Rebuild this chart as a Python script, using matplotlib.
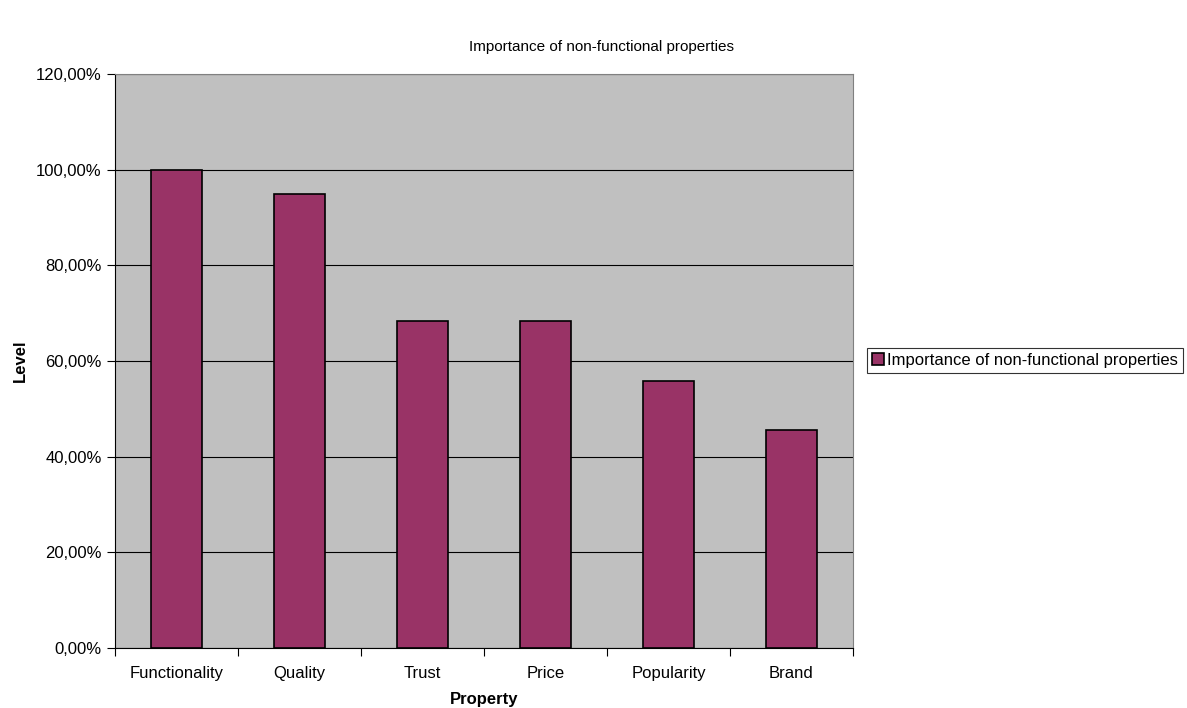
import matplotlib.pyplot as plt
from matplotlib.ticker import FuncFormatter, MultipleLocator

plt.rcParams['font.family'] = ['Liberation Sans', 'DejaVu Sans']

categories = ['Functionality', 'Quality', 'Trust', 'Price', 'Popularity', 'Brand']
values = [100.0, 95.0, 68.4, 68.4, 55.8, 45.6]
series_name = 'Importance of non-functional properties'

fig = plt.figure(figsize=(11.87, 7.08), dpi=100)
ax = fig.add_axes([0.0969, 0.0847, 0.6217, 0.8108])
ax.set_facecolor('#C0C0C0')

x = range(len(categories))
ax.bar(x, values, width=0.41, color='#993366', edgecolor='black', linewidth=1.2,
       label=series_name, zorder=3)

ax.set_xlim(-0.5, len(categories) - 0.5)
ax.set_ylim(0, 120)
ax.yaxis.set_major_locator(MultipleLocator(20))
ax.yaxis.set_major_formatter(FuncFormatter(lambda v, p: f'{v:.2f}%'.replace('.', ',')))
ax.grid(axis='y', color='black', linewidth=0.8, zorder=1)

# category labels centred, ticks on the boundaries
ax.set_xticks([i - 0.5 for i in range(len(categories) + 1)])
ax.set_xticklabels([])
ax.set_xticks(list(x), minor=True)
ax.set_xticklabels(categories, minor=True, fontsize=12)
ax.tick_params(axis='x', which='minor', length=0, pad=13)
ax.tick_params(axis='x', which='major', length=6, direction='out')
ax.tick_params(axis='y', length=6, direction='out', labelsize=12)

for s in ['top', 'right']:
    ax.spines[s].set_color('#808080')
for s in ['left', 'bottom']:
    ax.spines[s].set_color('black')

ax.set_xlabel('Property', fontsize=12, fontweight='bold', labelpad=8)
ax.set_ylabel('Level', fontsize=12, fontweight='bold', labelpad=6)
fig.text(0.507, 0.933, series_name, ha='center', va='center', fontsize=11)

leg = fig.legend(loc='center left', bbox_to_anchor=(867 / 1187, 1 - 360 / 708), fontsize=12,
                 frameon=True, fancybox=False, edgecolor='black', handlelength=0.7,
                 handleheight=0.7, handletextpad=0.2, borderpad=0.3, borderaxespad=0.0)
leg.get_frame().set_linewidth(0.8)

fig.savefig('out.png', dpi=100)
